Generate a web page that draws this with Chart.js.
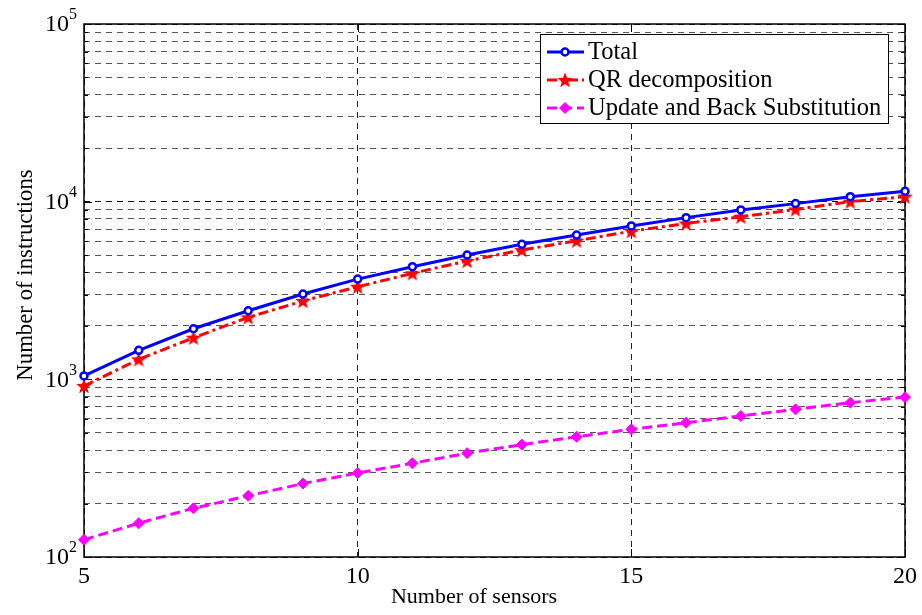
<!DOCTYPE html>
<html>
<head>
<meta charset="utf-8">
<script src="https://cdn.jsdelivr.net/npm/chart.js@4.4.0/dist/chart.umd.min.js"></script>
<style>
  html, body { margin: 0; padding: 0; background: #fff; }
  #wrap { width: 922px; height: 615px; }
</style>
</head>
<body>
<div id="wrap"><canvas id="grafico" width="922" height="615"></canvas></div>
<script>
// Dados
const sensores = [5, 6, 7, 8, 9, 10, 11, 12, 13, 14, 15, 16, 17, 18, 19, 20];
const total = [1045, 1456, 1926, 2432, 3021, 3665, 4305, 5010, 5755, 6490, 7300, 8130, 8980, 9750, 10670, 11430];
const qr = [917, 1296, 1714, 2234, 2760, 3320, 3950, 4635, 5345, 6025, 6820, 7540, 8220, 9040, 10000, 10670];
const update = [125, 155, 188, 221, 259, 297, 337, 384, 429, 475, 523, 570, 622, 678, 739, 794];
const nomes = ['Total', 'QR decomposition', 'Update and Back Substitution'];
const xTicks = [5, 10, 15, 20];
const decadas = [2, 3, 4, 5];

const fonte = "'Liberation Serif', 'Times New Roman', serif";

// estrela preenchida para o marcador do QR
function criarEstrela(cor) {
  const c = document.createElement('canvas');
  c.width = 18; c.height = 18;
  const g = c.getContext('2d');
  g.fillStyle = cor;
  g.beginPath();
  for (let i = 0; i < 10; i++) {
    const r = i % 2 === 0 ? 8.2 : 3.4;
    const ang = -Math.PI / 2 + i * Math.PI / 5;
    const px = 9 + r * Math.cos(ang), py = 9.6 + r * Math.sin(ang);
    if (i === 0) g.moveTo(px, py); else g.lineTo(px, py);
  }
  g.closePath();
  g.fill();
  return c;
}
const estrela = criarEstrela('#ff0000');

function ehDecada(v) {
  const l = Math.log10(v);
  return Math.abs(l - Math.round(l)) < 1e-9;
}

const pontos = arr => sensores.map((s, i) => ({ x: s, y: arr[i] }));

const moldura = {
  id: 'moldura',
  beforeDatasetsDraw(chart) {
    const { ctx, chartArea: a } = chart;
    ctx.save();
    ctx.setLineDash([]);
    ctx.strokeStyle = '#000';
    ctx.lineWidth = 1.5;
    ctx.strokeRect(a.left, a.top, a.right - a.left, a.bottom - a.top);
    ctx.lineWidth = 1;
    const ys = chart.scales.y;
    ys.ticks.forEach(t => {
      const py = Math.round(ys.getPixelForValue(t.value)) + 0.5;
      const len = ehDecada(t.value) ? 8 : 4;
      ctx.beginPath();
      ctx.moveTo(a.left, py); ctx.lineTo(a.left + len, py);
      ctx.moveTo(a.right, py); ctx.lineTo(a.right - len, py);
      ctx.stroke();
    });
    const xs = chart.scales.x;
    xTicks.forEach(v => {
      const px = Math.round(xs.getPixelForValue(v)) + 0.5;
      ctx.beginPath();
      ctx.moveTo(px, a.bottom); ctx.lineTo(px, a.bottom - 8);
      ctx.moveTo(px, a.top); ctx.lineTo(px, a.top + 8);
      ctx.stroke();
    });
    ctx.restore();
  },
  afterDraw(chart) {
    const { ctx } = chart;
    const ys = chart.scales.y;
    ctx.save();
    ctx.fillStyle = '#000';
    // rótulos do eixo y (10^n)
    decadas.forEach(d => {
      const py = ys.getPixelForValue(Math.pow(10, d));
      ctx.font = '24px ' + fonte;
      ctx.textAlign = 'right';
      ctx.textBaseline = 'middle';
      ctx.fillText('10', 69, py + 1);
      ctx.font = '16px ' + fonte;
      ctx.textAlign = 'left';
      ctx.fillText(String(d), 69, py - 9);
    });
    // títulos dos eixos
    ctx.font = '22px ' + fonte;
    ctx.textAlign = 'center';
    ctx.textBaseline = 'alphabetic';
    ctx.fillText('Number of sensors', 474, 603);
    ctx.save();
    ctx.font = '22.8px ' + fonte;
    ctx.translate(32, 275);
    ctx.rotate(-Math.PI / 2);
    ctx.fillText('Number of instructions', 0, 0);
    ctx.restore();

    // legenda
    const lx = 540, ly = 34, lw = 348, lh = 89;
    ctx.fillStyle = '#fff';
    ctx.fillRect(lx, ly, lw, lh);
    ctx.strokeStyle = '#000';
    ctx.lineWidth = 1;
    ctx.strokeRect(lx + 0.5, ly + 0.5, lw, lh);
    chart.data.datasets.forEach((ds, i) => {
      const yy = 52 + i * 28;
      ctx.save();
      ctx.strokeStyle = ds.borderColor;
      ctx.lineWidth = ds.borderWidth;
      ctx.setLineDash(ds.borderDash || []);
      ctx.beginPath();
      ctx.moveTo(547, yy); ctx.lineTo(584, yy);
      ctx.stroke();
      ctx.setLineDash([]);
      ctx.fillStyle = ds.pointBackgroundColor;
      ctx.strokeStyle = ds.pointBorderColor;
      ctx.lineWidth = ds.pointBorderWidth;
      Chart.helpers.drawPoint(ctx, {
        pointStyle: ds.pointStyle, radius: ds.pointRadius, rotation: 0, borderWidth: ds.pointBorderWidth
      }, 565, yy);
      ctx.restore();
      ctx.fillStyle = '#000';
      ctx.font = '24.5px ' + fonte;
      ctx.textAlign = 'left';
      ctx.textBaseline = 'middle';
      ctx.fillText(nomes[i], 588, yy + 1);
    });
    ctx.restore();
  }
};

const ctx = document.getElementById('grafico').getContext('2d');
new Chart(ctx, {
  type: 'line',
  data: {
    datasets: [
      {
        label: nomes[0],
        data: pontos(total),
        borderColor: '#0000ff',
        borderWidth: 3,
        pointStyle: 'circle',
        pointRadius: 3.5,
        pointBorderWidth: 2.5,
        pointBorderColor: '#0000ff',
        pointBackgroundColor: '#ffffff',
        fill: false,
        tension: 0,
        clip: false
      },
      {
        label: nomes[1],
        data: pontos(qr),
        borderColor: '#ff0000',
        borderWidth: 3,
        borderDash: [10, 4, 3, 4],
        pointStyle: estrela,
        pointRadius: 8,
        pointBorderWidth: 0,
        pointBorderColor: '#ff0000',
        pointBackgroundColor: '#ff0000',
        fill: false,
        tension: 0,
        clip: false
      },
      {
        label: nomes[2],
        data: pontos(update),
        borderColor: '#ff00ff',
        borderWidth: 3,
        borderDash: [10, 5],
        pointStyle: 'rectRot',
        pointRadius: 5.5,
        pointBorderWidth: 1,
        pointBorderColor: '#ff00ff',
        pointBackgroundColor: '#ff00ff',
        fill: false,
        tension: 0,
        clip: false
      }
    ]
  },
  options: {
    responsive: false,
    animation: false,
    events: [],
    layout: { padding: { top: 24, right: 16, left: 0, bottom: 0 } },
    plugins: {
      legend: { display: false },
      tooltip: { enabled: false },
      title: { display: false }
    },
    scales: {
      x: {
        type: 'linear',
        min: 5,
        max: 20,
        afterBuildTicks: s => { s.ticks = xTicks.map(v => ({ value: v })); },
        afterFit: s => { s.height = 58; },
        ticks: {
          color: '#000',
          padding: 5,
          font: { family: fonte, size: 24 }
        },
        grid: { color: '#222', lineWidth: 1, drawTicks: false },
        border: { display: false, dash: [6, 5] }
      },
      y: {
        type: 'logarithmic',
        min: 100,
        max: 100000,
        afterBuildTicks: s => {
          const t = [];
          decadas.slice(0, 3).forEach(d => {
            for (let k = 1; k <= 9; k++) t.push({ value: k * Math.pow(10, d) });
          });
          t.push({ value: 100000 });
          s.ticks = t;
        },
        afterFit: s => { s.width = 84; },
        ticks: { display: false },
        grid: {
          color: c => (c.tick && ehDecada(c.tick.value)) ? '#111' : '#555',
          lineWidth: 1,
          drawTicks: false
        },
        border: { display: false, dash: [6, 5] }
      }
    }
  },
  plugins: [moldura]
});
</script>
</body>
</html>
